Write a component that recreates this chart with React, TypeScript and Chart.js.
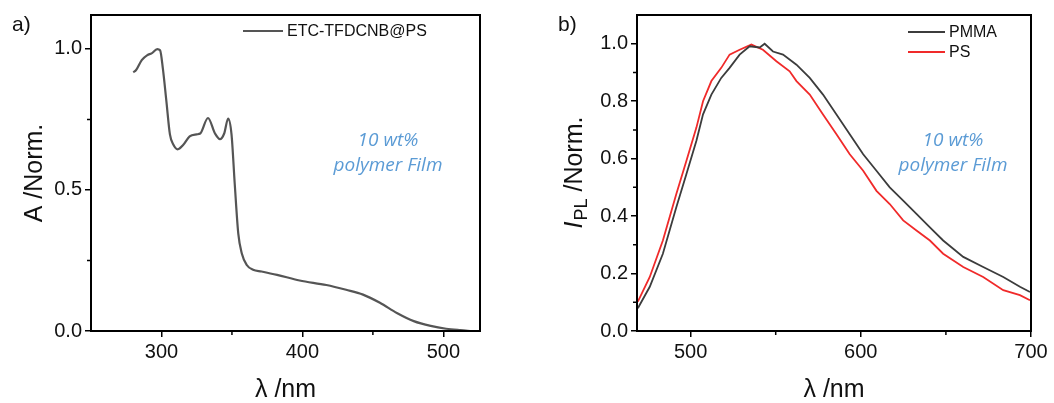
import React, { useEffect, useRef } from 'react';
import { Chart, registerables } from 'chart.js';
Chart.register(...registerables);

// ---------- data (a) absorption ----------
const absWavelength = [280, 282, 286, 290, 293, 297, 299, 301, 303.5, 306, 308.5, 311.5, 315.5, 320, 325, 327.5, 333, 338, 341.5, 344.5, 347.3, 349.7, 352, 354.5, 357, 360.5, 365, 371, 382, 398, 417, 431, 443, 455, 467, 479, 491, 502, 512, 520];
const absValue = [0.917, 0.925, 0.96, 0.978, 0.984, 0.999, 0.995, 0.93, 0.814, 0.697, 0.66, 0.644, 0.66, 0.69, 0.697, 0.70, 0.755, 0.70, 0.68, 0.70, 0.753, 0.697, 0.52, 0.345, 0.275, 0.234, 0.217, 0.211, 0.199, 0.179, 0.163, 0.146, 0.129, 0.100, 0.064, 0.035, 0.018, 0.008, 0.003, 0.0];

// ---------- data (b) photoluminescence ----------
const pmmaWavelength = [469, 476, 483.7, 491.6, 497.5, 503.4, 507.3, 512.2, 518, 522.9, 528.8, 534.7, 540.6, 543.5, 548.4, 554.3, 562.2, 570, 577.8, 585.7, 593.5, 601.4, 609.2, 617, 624.9, 632.7, 640.6, 648.4, 660.2, 671.9, 683.7, 693.5, 699.4];
const pmmaValue = [0.079, 0.154, 0.269, 0.431, 0.546, 0.662, 0.754, 0.823, 0.881, 0.916, 0.962, 0.991, 0.987, 1.0, 0.973, 0.962, 0.927, 0.881, 0.823, 0.754, 0.685, 0.615, 0.558, 0.5, 0.454, 0.408, 0.361, 0.315, 0.258, 0.223, 0.188, 0.154, 0.136];
const psWavelength = [469, 476, 483.7, 491.6, 497.5, 503.4, 507.3, 512.2, 518, 522.9, 528.8, 535.7, 542.5, 550.4, 558.2, 562.2, 570, 577.8, 585.7, 593.5, 601.4, 609.2, 617, 624.9, 632.7, 640.6, 648.4, 660.2, 671.9, 683.7, 693.5, 699.4];
const psValue = [0.102, 0.188, 0.315, 0.477, 0.592, 0.708, 0.8, 0.87, 0.916, 0.962, 0.979, 0.997, 0.979, 0.939, 0.904, 0.87, 0.823, 0.754, 0.685, 0.615, 0.558, 0.488, 0.442, 0.385, 0.35, 0.315, 0.269, 0.223, 0.188, 0.142, 0.125, 0.107];

// ---------- ticks ----------
const absXTicks = [300, 400, 500];
const absXMinor = [350, 450];
const absYTicks = [0, 0.5, 1.0];
const absYMinor = [0.25, 0.75];
const plXTicks = [500, 600, 700];
const plXMinor = [550, 650];
const plYTicks = [0, 0.2, 0.4, 0.6, 0.8, 1.0];
const plYMinor = [0.1, 0.3, 0.5, 0.7, 0.9];

const FONT = "'Liberation Sans', Arial, sans-serif";
const BLUE = '#5b9bd5';

function pts(xs: number[], ys: number[]) {
  return xs.map((x, i) => ({ x, y: ys[i] }));
}

function decorPlugin(spec: any) {
  return {
    id: 'decor',
    afterDraw(chart: any) {
      const ctx = chart.ctx;
      const a = chart.chartArea;
      const xs = chart.scales.x;
      const ys = chart.scales.y;
      ctx.save();
      // frame
      ctx.strokeStyle = '#000';
      ctx.lineWidth = 2;
      ctx.strokeRect(a.left, a.top, a.right - a.left, a.bottom - a.top);
      // minor ticks
      ctx.lineWidth = 1.5;
      ctx.beginPath();
      spec.xMinor.forEach((v: number) => {
        const px = xs.getPixelForValue(v);
        ctx.moveTo(px, a.bottom);
        ctx.lineTo(px, a.bottom + 4);
      });
      spec.yMinor.forEach((v: number) => {
        const py = ys.getPixelForValue(v);
        ctx.moveTo(a.left, py);
        ctx.lineTo(a.left - 4, py);
      });
      ctx.stroke();
      // panel label
      ctx.fillStyle = '#111';
      ctx.font = `21px ${FONT}`;
      ctx.textAlign = 'left';
      ctx.textBaseline = 'alphabetic';
      ctx.fillText(spec.panel, spec.panelX, 31);
      // x title
      ctx.font = `25px ${FONT}`;
      ctx.textAlign = 'center';
      ctx.fillText('λ /nm', (a.left + a.right) / 2, 397);
      // y title
      ctx.save();
      ctx.translate(spec.yTitleX, (a.top + a.bottom) / 2);
      ctx.rotate(-Math.PI / 2);
      ctx.textBaseline = 'middle';
      if (spec.yTitleSub) {
        const big = `25px ${FONT}`;
        const bigI = `italic 25px ${FONT}`;
        const small = `18px ${FONT}`;
        ctx.font = bigI;
        const w1 = ctx.measureText('I').width;
        ctx.font = small;
        const w2 = ctx.measureText('PL').width;
        ctx.font = big;
        const w3 = ctx.measureText(' /Norm.').width;
        let x0 = -(w1 + w2 + w3) / 2;
        ctx.textAlign = 'left';
        ctx.font = bigI;
        ctx.fillText('I', x0, 0);
        x0 += w1 + 1;
        ctx.font = small;
        ctx.fillText('PL', x0, 7);
        x0 += w2;
        ctx.font = big;
        ctx.fillText(' /Norm.', x0, 0);
      } else {
        ctx.textAlign = 'center';
        ctx.font = `25px ${FONT}`;
        ctx.fillText(spec.yTitle, 0, 0);
      }
      ctx.restore();
      // legend
      ctx.font = `16px ${FONT}`;
      ctx.textAlign = 'left';
      ctx.textBaseline = 'middle';
      spec.legend.forEach((l: any) => {
        ctx.strokeStyle = l.color;
        ctx.lineWidth = 2;
        ctx.beginPath();
        ctx.moveTo(l.x1, l.y);
        ctx.lineTo(l.x2, l.y);
        ctx.stroke();
        ctx.fillStyle = '#111';
        ctx.fillText(l.label, l.x2 + 4, l.y + 1);
      });
      // annotation
      ctx.fillStyle = BLUE;
      ctx.font = `italic 19px 'Open Sans', sans-serif`;
      ctx.textAlign = 'center';
      ctx.fillText('10 wt%', spec.noteX, 141);
      ctx.fillText('polymer Film', spec.noteX, 166);
      ctx.restore();
    },
  };
}

function axisOpts(min: number, max: number, ticks: number[], fmt: (v: number) => string, size: number) {
  return {
    type: 'linear',
    min,
    max,
    afterBuildTicks: (s: any) => {
      s.ticks = ticks.map((v) => ({ value: v }));
    },
    afterFit: (s: any) => {
      if (s.isHorizontal()) s.height = 72;
      else s.width = size;
    },
    border: { display: true, color: '#000', width: 2 },
    grid: { drawOnChartArea: false, drawTicks: true, tickLength: 6, color: '#000', lineWidth: 1.5 },
    ticks: {
      color: '#111',
      font: { family: FONT, size: 20 },
      padding: 3,
      maxRotation: 0,
      autoSkip: false,
      callback: (v: any) => fmt(Number(v)),
    },
    title: { display: false },
  };
}

function useChart(ref: any, build: () => any) {
  useEffect(() => {
    const chart = new Chart(ref.current, build());
    return () => chart.destroy();
  }, []);
}

export default function App() {
  const leftRef = useRef<HTMLCanvasElement>(null);
  const rightRef = useRef<HTMLCanvasElement>(null);

  useChart(leftRef, () => ({
    type: 'line',
    data: {
      datasets: [
        {
          label: 'ETC-TFDCNB@PS',
          data: pts(absWavelength, absValue),
          borderColor: '#555',
          borderWidth: 2.2,
          pointRadius: 0,
          cubicInterpolationMode: 'monotone',
          fill: false,
        },
      ],
    },
    options: {
      animation: false,
      responsive: false,
      layout: { padding: { top: 13, right: 50, left: 0, bottom: 0 } },
      plugins: { legend: { display: false }, tooltip: { enabled: false } },
      scales: {
        x: axisOpts(250, 526, absXTicks, (v) => String(v), 91),
        y: axisOpts(0, 1.12, absYTicks, (v) => v.toFixed(1), 91),
      },
    },
    plugins: [
      decorPlugin({
        xMinor: absXMinor,
        yMinor: absYMinor,
        panel: 'a)',
        panelX: 12,
        yTitle: 'A /Norm.',
        yTitleX: 35,
        legend: [{ x1: 243, x2: 283, y: 31, color: '#555', label: 'ETC-TFDCNB@PS' }],
        noteX: 388,
      }),
    ],
  }));

  useChart(rightRef, () => ({
    type: 'line',
    data: {
      datasets: [
        {
          label: 'PMMA',
          data: pts(pmmaWavelength, pmmaValue),
          borderColor: '#3c3c3c',
          borderWidth: 1.8,
          pointRadius: 0,
          tension: 0,
          fill: false,
        },
        {
          label: 'PS',
          data: pts(psWavelength, psValue),
          borderColor: '#f02a2a',
          borderWidth: 1.8,
          pointRadius: 0,
          tension: 0,
          fill: false,
        },
      ],
    },
    options: {
      animation: false,
      responsive: false,
      layout: { padding: { top: 13, right: 23, left: 0, bottom: 0 } },
      plugins: { legend: { display: false }, tooltip: { enabled: false } },
      scales: {
        x: axisOpts(468.5, 700, plXTicks, (v) => String(v), 107),
        y: axisOpts(0, 1.1, plYTicks, (v) => v.toFixed(1), 107),
      },
    },
    plugins: [
      decorPlugin({
        xMinor: plXMinor,
        yMinor: plYMinor,
        panel: 'b)',
        panelX: 28,
        yTitleSub: true,
        yTitleX: 45,
        legend: [
          { x1: 378, x2: 415, y: 32, color: '#3c3c3c', label: 'PMMA' },
          { x1: 378, x2: 415, y: 52, color: '#f02a2a', label: 'PS' },
        ],
        noteX: 423,
      }),
    ],
  }));

  return (
    <div style={{ position: 'fixed', left: 0, top: 0, width: 1054, height: 403, background: '#fff' }}>
      <canvas ref={leftRef} width={530} height={403} style={{ position: 'absolute', left: 0, top: 0, width: 530, height: 403 }} />
      <canvas ref={rightRef} width={524} height={403} style={{ position: 'absolute', left: 530, top: 0, width: 524, height: 403 }} />
    </div>
  );
}
